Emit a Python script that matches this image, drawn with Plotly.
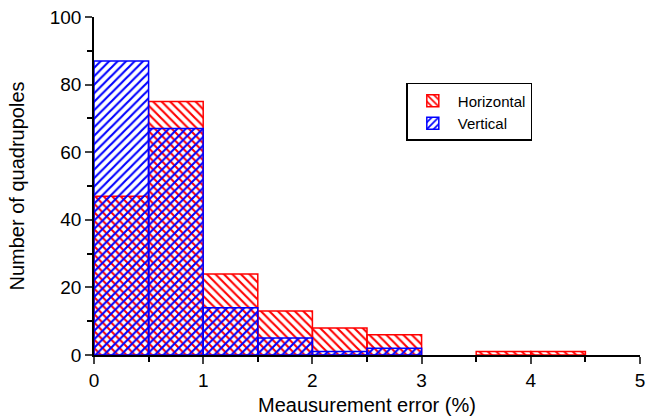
import plotly.graph_objects as go

bin_left = [0.0, 0.5, 1.0, 1.5, 2.0, 2.5, 3.0, 3.5, 4.0, 4.5]
bin_width = 0.5
horizontal = [47, 75, 24, 13, 8, 6, 0, 1, 1, 0]
vertical = [87, 67, 14, 5, 1, 2, 0, 0, 0, 0]

centers = [b + bin_width / 2 for b in bin_left]


def nonzero(vals):
    xs = [c for c, v in zip(centers, vals) if v > 0]
    ys = [v for v in vals if v > 0]
    return xs, ys


fig = go.Figure()
hx, hy = nonzero(horizontal)
vx, vy = nonzero(vertical)
fig.add_trace(go.Bar(
    x=hx, y=hy, width=bin_width, name="Horizontal",
    marker=dict(color="red", line=dict(color="red", width=1.5),
                pattern=dict(shape="\\", fgcolor="red", bgcolor="rgba(0,0,0,0)",
                             fillmode="replace", size=6, solidity=0.35)),
))
fig.add_trace(go.Bar(
    x=vx, y=vy, width=bin_width, name="Vertical",
    marker=dict(color="blue", line=dict(color="blue", width=1.5),
                pattern=dict(shape="/", fgcolor="blue", bgcolor="rgba(0,0,0,0)",
                             fillmode="replace", size=6, solidity=0.35)),
))

font = "Liberation Sans, Arial, sans-serif"
fig.update_layout(
    width=657, height=420,
    margin=dict(l=94, r=17, t=17, b=65),
    barmode="overlay",
    paper_bgcolor="white", plot_bgcolor="white",
    font=dict(family=font, size=19, color="black"),
    legend=dict(x=0.572, y=0.805, xanchor="left", yanchor="top",
                bordercolor="black", borderwidth=1.5, bgcolor="white",
                font=dict(size=15), tracegroupgap=0, entrywidth=165,
                entrywidthmode="pixels", itemwidth=40),
    xaxis=dict(range=[0, 5], tickvals=[0, 1, 2, 3, 4, 5], ticks="outside",
               ticklen=7, tickwidth=1.5, showline=True, linecolor="black", linewidth=1.5,
               showgrid=False, zeroline=False, automargin=False,
               minor=dict(tickvals=[0.5, 1.5, 2.5, 3.5, 4.5], ticks="outside", ticklen=5,
                          tickwidth=1.5, tickcolor="black"),
               title=dict(text="Meausurement error (%)", font=dict(size=20), standoff=8)),
    yaxis=dict(range=[0, 100], tickvals=[0, 20, 40, 60, 80, 100], ticks="outside",
               ticklen=7, tickwidth=1.5, showline=True, linecolor="black", linewidth=1.5,
               showgrid=False, zeroline=False, automargin=False,
               minor=dict(tickvals=[10, 30, 50, 70, 90], ticks="outside", ticklen=5,
                          tickwidth=1.5, tickcolor="black"),
               title=dict(text="Number of quadrupoles", font=dict(size=20), standoff=20)),
)

fig.write_html("out.html")
